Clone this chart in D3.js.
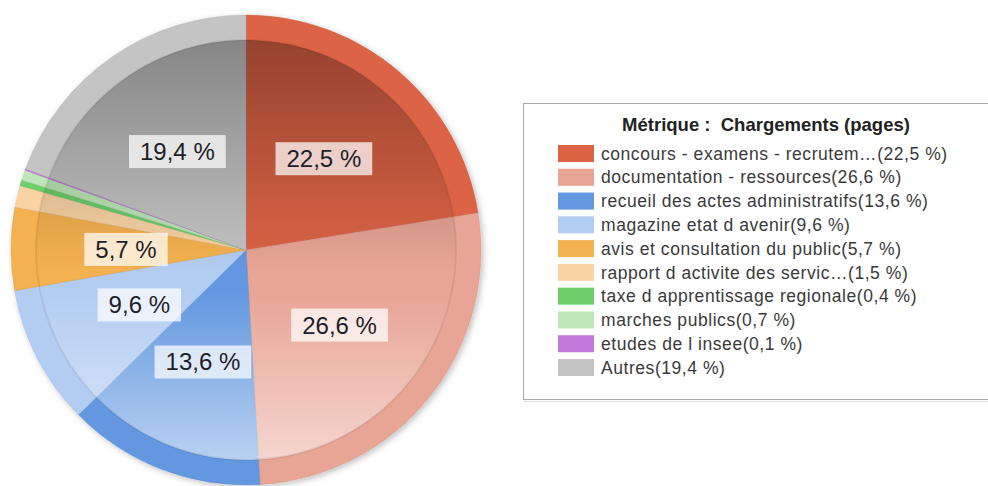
<!DOCTYPE html>
<html><head><meta charset="utf-8">
<script src="https://cdn.jsdelivr.net/npm/d3@7/dist/d3.min.js"></script>
<style>
html,body{margin:0;padding:0;background:#fff;}
svg{display:block;font-family:"Liberation Sans",Arial,sans-serif;}
text{white-space:pre;}
</style></head>
<body>
<svg id="chart" width="988" height="486"></svg>
<script>
const categories = [
  "concours - examens - recrutem\u2026",
  "documentation - ressources",
  "recueil des actes administratifs",
  "magazine etat d avenir",
  "avis et consultation du public",
  "rapport d activite des servic\u2026",
  "taxe d apprentissage regionale",
  "marches publics",
  "etudes de l insee",
  "Autres"
];
const values = [22.5, 26.6, 13.6, 9.6, 5.7, 1.5, 0.4, 0.7, 0.1, 19.4];
const colors = ["#dc6444", "#e8a494", "#6398e0", "#b3ccf2", "#f3b14f", "#fad3a4", "#6ccf6a", "#bde7b8", "#c279dc", "#c4c4c4"];
const legendTitle = "M\u00e9trique :  Chargements (pages)";

const fmt = v => v.toFixed(1).replace(".", ",") + " %";

const svg = d3.select("#chart");
const defs = svg.append("defs");

const cx = 246, cy = 250, R = 235, Rin = 210;

const shadow = defs.append("filter").attr("id", "shadow").attr("x", "-10%").attr("y", "-10%").attr("width", "120%").attr("height", "120%");
shadow.append("feDropShadow").attr("dx", 2).attr("dy", 2).attr("stdDeviation", 3).attr("flood-color", "#000").attr("flood-opacity", 0.25);

const grad = defs.append("linearGradient").attr("id", "shade").attr("x1", 0).attr("y1", 0).attr("x2", 0).attr("y2", 1);
grad.append("stop").attr("offset", "0").attr("stop-color", "#000").attr("stop-opacity", 0.32);
grad.append("stop").attr("offset", "0.55").attr("stop-color", "#000").attr("stop-opacity", 0.0);
grad.append("stop").attr("offset", "0.6").attr("stop-color", "#fff").attr("stop-opacity", 0.0);
grad.append("stop").attr("offset", "1").attr("stop-color", "#fff").attr("stop-opacity", 0.55);

const pie = d3.pie().sort(null).value(d => d).startAngle(0).endAngle(2 * Math.PI);
const arcs = pie(values);
const arcOuter = d3.arc().innerRadius(0).outerRadius(R);
const arcLabel = d3.arc().innerRadius(120).outerRadius(120);

const g = svg.append("g").attr("transform", `translate(${cx},${cy})`);
const slices = g.append("g").attr("filter", "url(#shadow)");
slices.selectAll("path").data(arcs).join("path")
  .attr("d", arcOuter)
  .attr("fill", (d, i) => colors[i])
  .attr("stroke", (d, i) => d3.color(colors[i]).darker(0.3))
  .attr("stroke-width", 0.4);

g.append("circle").attr("r", Rin).attr("fill", "url(#shade)");
g.append("circle").attr("r", Rin).attr("fill", "none").attr("stroke", "rgba(0,0,0,0.07)").attr("stroke-width", 2);

const labels = g.append("g").selectAll("g").data(arcs.filter(d => d.data >= 3)).join("g")
  .attr("transform", d => `translate(${arcLabel.centroid(d)})`);
const rects = labels.append("rect").attr("fill", "rgba(255,255,255,0.72)");
labels.append("text")
  .attr("text-anchor", "middle").attr("dy", "0.35em")
  .attr("font-size", 24).attr("fill", "#1e1e28")
  .text(d => fmt(d.data));
labels.each(function() {
  const t = d3.select(this).select("text").node();
  const w = t.getComputedTextLength() + 22;
  d3.select(this).select("rect").attr("x", -w / 2).attr("y", -16.5).attr("width", w).attr("height", 33);
});

// Legend
const lg = svg.append("g");
lg.append("rect").attr("x", 524.5).attr("y", 104.5).attr("width", 500).attr("height", 297)
  .attr("fill", "none").attr("stroke", "#e0e0e0").attr("stroke-width", 1);
lg.append("rect").attr("x", 523.5).attr("y", 103.5).attr("width", 500).attr("height", 296)
  .attr("fill", "#fff").attr("stroke", "#a8a8a8").attr("stroke-width", 1);
lg.append("text").attr("x", 766).attr("y", 125).attr("dy", "0.35em").attr("text-anchor", "middle")
  .attr("font-size", 18.5).attr("font-weight", "bold").attr("fill", "#222").text(legendTitle);

const rowY = d3.scaleLinear().domain([0, categories.length - 1]).range([153.5, 367.5]);
const rows = lg.selectAll("g.row").data(categories).join("g").attr("class", "row")
  .attr("transform", (d, i) => `translate(0,${rowY(i)})`);
rows.append("rect").attr("x", 558).attr("y", -8.5).attr("width", 36).attr("height", 17)
  .attr("fill", (d, i) => colors[i]);
rows.append("text").attr("x", 601).attr("dy", "0.35em").attr("font-size", 17.5).attr("letter-spacing", 0.55).attr("fill", "#3a3a3a")
  .text((d, i) => d + "(" + fmt(values[i]) + ")");
</script>
</body></html>
